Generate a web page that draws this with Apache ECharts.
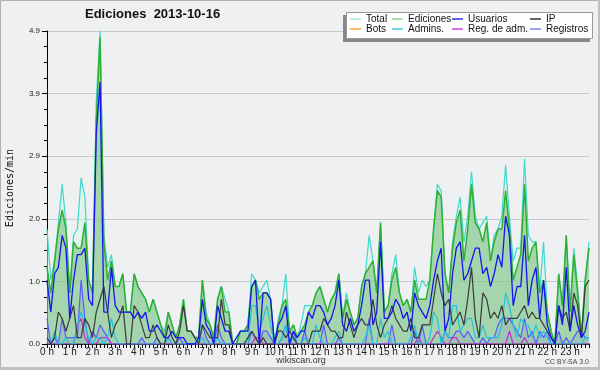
<!DOCTYPE html>
<html><head><meta charset="utf-8">
<script src="https://cdn.jsdelivr.net/npm/echarts@6/dist/echarts.min.js"></script>
<style>html,body{margin:0;padding:0;background:#eff0f2}#c{width:600px;height:370px}</style>
</head><body><div id="c"></div><script>
const hourLabels = ['0 h','1 h','2 h','3 h','4 h','5 h','6 h','7 h','8 h','9 h','10 h','11 h','12 h','13 h','14 h','15 h','16 h','17 h','18 h','19 h','20 h','21 h','22 h','23 h'];
const categories = [];
for (let h = 0; h < 24; h++) for (let m = 0; m < 60; m += 10) categories.push(h + ':' + (m < 10 ? '0' : '') + m);

const total = [
1.8,1.0,1.3,1.9,2.5,1.9,0.8,1.7,1.8,2.6, 2.3,1.0,0.8,3.8,4.9,1.7,1.2,1.4,0.9,0.9, 1.1,0.5,0.5,1.1,0.9,0.8,0.7,0.5,0.7,0.5, 0.3,0.2,0.5,0.3,0.1,0.3,
0.7,0.2,0.2,0.1,0.1,1.0,0.5,0.3,0.1,0.7, 0.9,0.7,0.5,0.0,0.0,0.2,0.2,0.3,1.1,1.0, 0.8,0.9,1.0,0.7,0.0,0.4,0.6,1.1,0.2,0.3, 0.1,0.3,0.6,0.6,0.6,0.8,
0.9,0.7,0.5,0.7,0.8,1.1,0.4,0.8,0.5,0.3, 0.4,0.9,1.1,1.7,1.3,0.8,1.9,0.5,0.6,1.1, 1.4,0.8,0.6,0.7,0.5,1.2,0.8,1.0,0.9,1.0, 1.8,2.5,2.4,1.1,0.8,
1.6,2.0,2.3,1.6,2.0,2.7,2.0,1.8,1.9,2.0, 1.3,1.7,1.8,2.0,2.8,2.0,1.3,1.5,1.5,2.9, 1.7,1.6,1.6,0.8,1.6,0.5,0.2,0.0,1.1,0.6, 1.7,0.5,1.5,0.9,0.1,1.0,1.6];
const ediciones = [
1.2,0.8,1.3,1.8,2.1,1.8,0.8,1.6,1.5,1.5, 1.9,1.0,0.8,3.5,4.8,1.6,1.0,1.3,0.9,0.9, 1.1,0.5,0.5,1.1,0.9,0.8,0.7,0.5,0.7,0.5, 0.3,0.1,0.5,0.3,0.1,0.3,
0.7,0.2,0.2,0.1,0.1,1.0,0.4,0.3,0.1,0.7, 0.9,0.5,0.5,0.0,0.0,0.2,0.2,0.3,0.9,1.0, 0.7,0.8,0.8,0.7,0.0,0.3,0.6,0.7,0.2,0.3, 0.1,0.2,0.3,0.5,0.6,0.8,
0.9,0.7,0.5,0.7,0.8,1.1,0.4,0.7,0.5,0.3, 0.4,0.9,1.1,1.2,1.3,0.8,1.9,0.5,0.6,1.0, 1.2,0.8,0.6,0.7,0.5,1.0,0.7,0.7,0.7,1.0, 1.8,2.4,2.3,1.1,0.8,
1.5,1.9,2.1,1.3,1.8,2.5,1.9,1.8,1.6,1.9, 1.3,1.6,1.8,1.8,2.4,1.8,1.0,1.2,1.4,2.5, 1.3,1.5,1.6,0.8,1.0,0.5,0.2,0.0,1.1,0.6, 1.7,0.5,1.4,0.8,0.1,1.0,1.5];
const usuarios = [
1.0,0.5,1.1,1.2,1.7,1.5,0.4,1.0,1.4,1.4, 1.5,0.7,0.6,3.3,4.1,0.5,0.5,1.2,0.6,0.5, 0.5,0.5,0.5,0.4,0.5,0.4,0.5,0.2,0.2,0.3, 0.2,0.1,0.1,0.2,0.1,0.1,
0.1,0.0,0.0,0.0,0.1,0.7,0.3,0.2,0.0,0.6, 0.4,0.2,0.2,0.0,0.1,0.2,0.2,0.2,0.9,1.0, 0.0,0.8,0.8,0.7,0.0,0.3,0.4,0.6,0.0,0.2, 0.1,0.2,0.2,0.5,0.4,0.6,
0.6,0.5,0.3,0.4,0.6,1.0,0.3,0.2,0.4,0.2, 0.3,0.6,1.0,1.0,0.3,0.5,1.6,0.4,0.4,0.5, 0.7,0.6,0.4,0.5,0.2,0.8,0.6,0.5,0.4,0.6, 1.0,1.3,1.5,0.2,0.4,
1.1,1.5,1.6,1.0,1.1,1.3,1.5,1.5,1.1,1.2, 0.9,1.1,1.4,1.2,2.0,1.7,0.6,0.9,0.9,1.7, 0.6,1.0,1.2,0.4,1.0,0.3,0.1,0.0,0.6,0.3, 1.2,0.2,0.6,0.3,0.1,0.2,0.5];
const ip = [
0.1,0.0,0.1,0.5,0.4,0.2,0.4,0.6,0.1,0.1, 0.4,0.3,0.1,0.5,0.7,0.9,0.5,0.1,0.3,0.4, 0.6,0.0,0.0,0.6,0.5,0.3,0.1,0.1,0.3,0.1, 0.0,0.0,0.3,0.1,0.0,0.2,
0.6,0.2,0.2,0.1,0.0,0.3,0.2,0.1,0.1,0.1, 0.7,0.3,0.3,0.0,0.0,0.0,0.0,0.1,0.2,0.1, 0.0,0.1,0.0,0.0,0.0,0.2,0.2,0.1,0.2,0.1, 0.0,0.0,0.0,0.0,0.2,0.2,
0.2,0.4,0.3,0.2,0.2,0.1,0.1,0.5,0.3,0.1, 0.3,0.4,0.3,0.3,0.7,0.3,0.1,0.3,0.4,0.6, 0.4,0.3,0.2,0.2,0.4,0.1,0.1,0.3,0.3,0.3, 0.7,1.1,0.8,0.6,0.7,
0.3,0.4,0.5,0.3,0.7,1.2,0.4,0.1,0.8,0.7, 0.4,0.5,0.4,0.6,0.3,0.4,0.4,0.4,0.5,0.6, 0.4,0.5,0.4,0.4,0.3,0.2,0.1,0.0,0.6,0.4, 0.5,0.2,0.8,0.6,0.1,0.9,1.0];
const bots = [];
const admins = [
0.1,0.0,0.2,0.0,0.0,0.1,0.0,0.0,0.3,0.5, 0.3,0.1,0.0,0.1,0.1,0.0,0.1,0.4,0.1,0.0, 0,0,0,0,0,0,0,0,0,0, 0,0,0.1,0,0,0,
0,0,0,0,0,0.1,0,0,0,0.1, 0,0,0,0,0,0,0,0,0.6,0.6, 0.2,0.4,0.6,0.3,0,0,0.1,0.3,0,0.1, 0,0,0.1,0,0,0.3,
0.1,0,0,0,0.1,0.2,0,0,0,0, 0,0,0.1,0.3,0,0,0.4,0.1,0.2,0, 0,0,0,0,0.1,0.3,0,0,0,0.1, 0.5,0.4,0,0.2,0.1,
0.6,0.6,0.2,0.3,0.4,0.4,0.1,0.1,0.3,0.1, 0.1,0.1,0.1,0.3,0.8,0.6,0.3,0.1,0.4,0.3, 0.3,0.1,0.3,0.1,0.2,0.1,0,0,0,0, 0,0,0,0,0,0.1,0.1];
const regAdm = [
0,0,0,0,0,0,0,0,0.3,0.4, 0.1,0,0,0,0.1,0.1,0.1,0,0,0, 0,0,0,0,0,0,0,0,0,0, 0,0,0,0,0,0,
0,0,0,0,0,0,0,0,0,0, 0,0,0,0,0,0,0,0,0,0.1, 0.1,0,0,0,0,0,0,0,0,0, 0,0,0,0,0,0,
0,0,0,0,0,0,0,0,0,0, 0,0,0,0,0,0,0,0,0,0, 0,0,0,0,0,0,0.1,0,0,0, 0.1,0.2,0.1,0,0,
0.1,0.1,0,0,0,0,0,0,0,0, 0,0,0,0,0,0.2,0,0,0,0.1, 0,0,0,0,0,0,0,0,0,0, 0,0,0,0,0,0,0];
const registros = [
0.4,0.0,0.1,0.0,0.4,0.1,0.1,0.1,0.1,1.0, 0.4,0.0,0.2,0.1,0.3,0.2,0.1,0.0,0.0,0.0, 0,0,0,0,0,0.1,0,0,0,0.1, 0,0,0.1,0,0,0.1,
0,0,0,0,0,0.3,0.1,0,0,0.3, 0.1,0,0,0,0,0,0,0,0.2,0.1, 0,0.2,0.2,0.1,0,0,0.1,0.3,0,0.2, 0,0,0.2,0,0,0,
0,0.3,0,0,0,0.1,0,0,0,0, 0,0,0,0.4,0,0,0,0,0,0.3, 0,0,0,0,0,0.2,0,0.3,0,0, 0,0,0,0.2,0.1,
0.1,0.2,0.2,0.1,0.2,0.1,0.0,0.0,0.1,0.0, 0.1,0.1,0.3,0.4,0.4,0.4,0.3,0.2,0.1,0.4, 0.1,0.2,0.0,0.2,0.1,0.2,0.0,0.0,0.2,0.0, 0.1,0.0,0.1,0.2,0.2,0.1,0.1];

const FONT = 'Liberation Sans';
function ln(name, data, color, width, extra) {
  return Object.assign({
    type: 'line', name: name, data: data, symbol: 'none', showSymbol: false,
    lineStyle: { color: color, width: width }, itemStyle: { color: color },
    emphasis: { disabled: true }, animation: false
  }, extra || {});
}
function li(name, color) {
  return { name: name, itemStyle: { color: color, borderColor: color, borderWidth: 0 } };
}
function legendCol(left, items) {
  return {
    orient: 'vertical', left: left, top: 14, padding: 0, itemGap: 0,
    itemWidth: 11, itemHeight: 1.5, icon: 'rect', selectedMode: false,
    textStyle: { fontFamily: FONT, fontSize: 10, color: '#111', lineHeight: 10 },
    data: items
  };
}
const chart = echarts.init(document.getElementById('c'), null, { renderer: 'canvas' });
chart.setOption({
  backgroundColor: '#eff0f2',
  animation: false,
  title: { text: 'Ediciones  2013-10-16', left: 85, top: 8, padding: 0,
    textStyle: { fontFamily: FONT, fontSize: 13, fontWeight: 'bold', color: '#111' } },
  grid: { left: 47, right: 11, top: 31, bottom: 26 },
  xAxis: {
    type: 'category', data: categories, boundaryGap: false,
    axisLine: { lineStyle: { color: '#000', width: 1.5 } },
    axisTick: { interval: 0, length: 4, lineStyle: { color: '#000' } },
    axisLabel: { interval: function (i) { return i % 6 === 0; },
      formatter: function (v, i) { return hourLabels[Math.round(i / 6)]; },
      fontFamily: FONT, fontSize: 10, margin: 3, color: '#222' },
    splitLine: { show: false }
  },
  yAxis: {
    type: 'value', min: 0, max: 4.9, interval: 0.98,
    axisLine: { show: true, lineStyle: { color: '#000' } },
    axisTick: { show: true, length: 5, lineStyle: { color: '#000' } },
    minorTick: { show: true, splitNumber: 4, length: 3, lineStyle: { color: '#000' } },
    axisLabel: { formatter: function (v) { return v.toFixed(1); }, fontFamily: FONT, fontSize: 8, margin: 7, color: '#222' },
    splitLine: { show: true, lineStyle: { color: '#c8c8c8', width: 1 } }
  },
  legend: [
    legendCol(350, [li('Total', '#a8e4e0'), li('Bots', '#ffa040')]),
    legendCol(392, [li('Ediciones', '#90d890'), li('Admins.', '#40c8e0')]),
    legendCol(452, [li('Usuarios', '#3030e0'), li('Reg. de adm.', '#d040e0')]),
    legendCol(530, [li('IP', '#333333'), li('Registros', '#8080f0')])
  ],
  graphic: { elements: [
    { type: 'rect', z: 3, silent: true, shape: { x: 343, y: 15, width: 247, height: 27 }, style: { fill: '#888' } },
    { type: 'rect', z: 3, silent: true, shape: { x: 346.5, y: 12.5, width: 246, height: 26 }, style: { fill: '#fff', stroke: '#999', lineWidth: 1 } },
    { type: 'rect', z: 3, silent: true, shape: { x: 0.5, y: 0.5, width: 598, height: 367 }, style: { fill: null, stroke: '#b0b0b0', lineWidth: 1 } },
    { type: 'rect', z: 3, silent: true, shape: { x: 0, y: 367, width: 600, height: 3 }, style: { fill: '#c0c0c0' } },
    { type: 'rect', z: 3, silent: true, shape: { x: 598, y: 0, width: 2, height: 370 }, style: { fill: '#c0c0c0' } },
    { type: 'text', z: 3, silent: true, x: 301, y: 361, style: { text: 'wikiscan.org', fill: '#333', font: '9px "Liberation Sans"', textAlign: 'center', textVerticalAlign: 'middle' } },
    { type: 'text', z: 3, silent: true, x: 589, y: 362, style: { text: 'CC BY-SA 3.0', fill: '#444', font: '7px "Liberation Sans"', textAlign: 'right', textVerticalAlign: 'middle' } },
    { type: 'text', z: 3, silent: true, x: 10, y: 188, rotation: Math.PI / 2, style: { text: 'Ediciones/min', fill: '#111', font: '10px "DejaVu Sans Mono"', textAlign: 'center', textVerticalAlign: 'middle' } }
  ] },
  series: [
    ln('Total', total, '#3fd8cc', 1.2, { areaStyle: { color: 'rgba(215,246,238,0.75)' } }),
    ln('Ediciones', ediciones, '#2fb02f', 1.5, { areaStyle: { color: 'rgba(50,160,50,0.5)' } }),
    ln('Bots', bots, '#ffa040', 1.2),
    ln('Registros', registros, '#5a5aff', 1.2, { areaStyle: { color: 'rgba(110,110,230,0.22)' } }),
    ln('Reg. de adm.', regAdm, '#c030d0', 1.2),
    ln('Admins.', admins, '#22c4dc', 1.2),
    ln('IP', ip, '#3a3a3a', 1.2),
    ln('Usuarios', usuarios, '#1515ee', 1.3)
  ]
});
</script></body></html>
